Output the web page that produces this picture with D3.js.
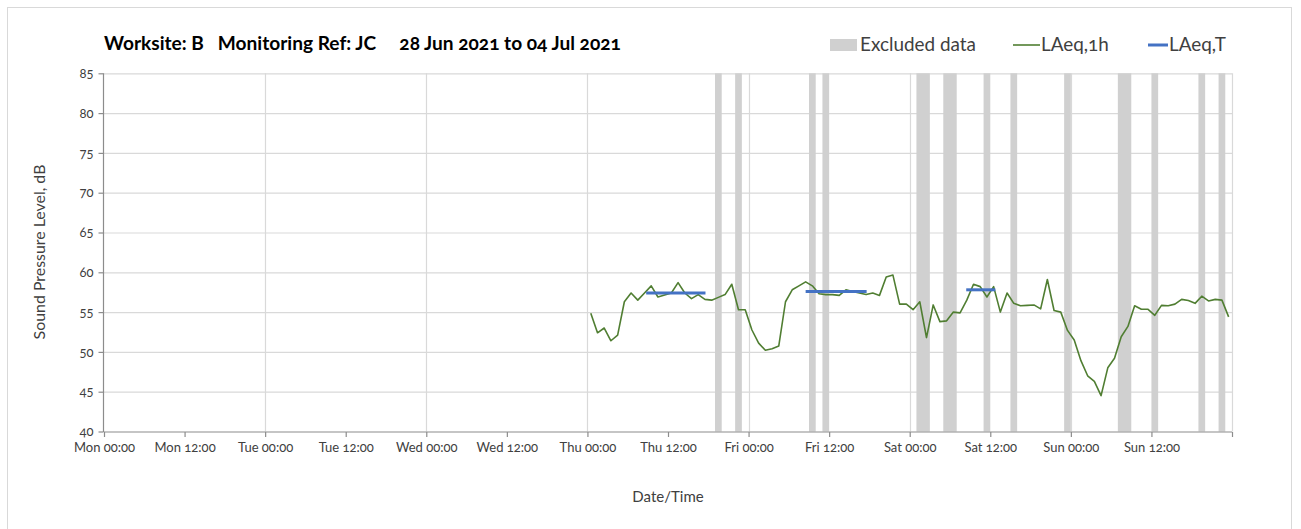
<!DOCTYPE html>
<html><head><meta charset="utf-8">
<script src="https://cdn.jsdelivr.net/npm/d3@7"></script>
<style>
html,body{margin:0;padding:0;background:#fff;}
svg{display:block;font-family:Lato,"Open Sans",sans-serif;font-feature-settings:"onum";}
</style></head><body>
<svg id="c" width="1301" height="529"></svg>
<script>
// ---- data ----
const titleText = "Worksite: B\u00a0\u00a0\u00a0Monitoring Ref: JC\u00a0\u00a0\u00a0\u00a0\u00a028 Jun 2021 to 04 Jul 2021";
const axisStart = "2021-06-28T00:00:00Z";
const axisEnd = "2021-07-05T00:00:00Z";
const yTicks = [40,45,50,55,60,65,70,75,80,85];
const lineStart = "2021-07-01T00:30:00Z"; // first hourly value (plotted at hour midpoint)
const laeq1h = [
 54.85,52.4,53.0,51.4,52.1,56.3,57.4,56.5,57.4,58.3,56.9,57.15,57.4,58.7,57.4,56.7,
 57.2,56.6,56.5,56.85,57.2,58.5,55.3,55.3,
 52.75,51.1,50.2,50.4,50.75,56.3,57.8,58.3,58.8,58.3,57.3,57.2,57.2,57.1,57.8,57.6,57.4,57.2,57.4,57.1,59.4,59.65,56.0,56.0,
 55.3,56.3,51.8,55.9,53.8,53.9,55.0,54.9,56.5,58.5,58.2,56.9,58.2,55.0,57.4,56.1,55.8,55.85,55.9,55.4,59.1,55.2,55.0,52.7,
 51.5,48.9,47.0,46.3,44.5,48.0,49.2,51.9,53.2,55.8,55.35,55.35,54.6,55.85,55.8,56.0,56.6,56.45,56.1,57.0,56.4,56.6,56.5,54.4
];
const laeqT = [
 {from:"2021-07-01T08:45:00Z", to:"2021-07-01T17:35:00Z", value:57.4},
 {from:"2021-07-02T08:30:00Z", to:"2021-07-02T17:35:00Z", value:57.6},
 {from:"2021-07-03T08:25:00Z", to:"2021-07-03T12:45:00Z", value:57.8}
];
const excluded = [
 ["2021-07-01T19:00:00Z","2021-07-01T20:00:00Z"],
 ["2021-07-01T22:00:00Z","2021-07-01T23:00:00Z"],
 ["2021-07-02T09:00:00Z","2021-07-02T10:00:00Z"],
 ["2021-07-02T11:00:00Z","2021-07-02T12:00:00Z"],
 ["2021-07-03T01:00:00Z","2021-07-03T03:00:00Z"],
 ["2021-07-03T05:00:00Z","2021-07-03T07:00:00Z"],
 ["2021-07-03T11:00:00Z","2021-07-03T12:00:00Z"],
 ["2021-07-03T15:00:00Z","2021-07-03T16:00:00Z"],
 ["2021-07-03T23:00:00Z","2021-07-04T00:00:00Z"],
 ["2021-07-04T07:00:00Z","2021-07-04T09:00:00Z"],
 ["2021-07-04T12:00:00Z","2021-07-04T13:00:00Z"],
 ["2021-07-04T19:00:00Z","2021-07-04T20:00:00Z"],
 ["2021-07-04T22:00:00Z","2021-07-04T23:00:00Z"]
];
const legendItems = ["Excluded data","LAeq,1h","LAeq,T"];

// ---- helpers ----
function fit(sel, target){ // scale font so the text spans target px; returns the size used
  let out = null;
  sel.each(function(){
    const fs = parseFloat(getComputedStyle(this).fontSize);
    const w = this.getComputedTextLength();
    if (w > 0) { out = fs*target/w; d3.select(this).style("font-size", out.toFixed(2)+"px"); }
  });
  return out;
}

// ---- chart ----
const svg = d3.select("#c");
const P = {l:104, r:1232, t:73.3, b:431.5};
const x = d3.scaleUtc().domain([new Date(axisStart), new Date(axisEnd)]).range([P.l, P.r]);
const y = d3.scaleLinear().domain([40,85]).range([P.b, P.t]);
const gridCol = "#d9d9d9", axisCol = "#8c8c8c", textCol = "#404040";

svg.append("rect").attr("x",7.5).attr("y",7.5).attr("width",1284).attr("height",540)
  .attr("fill","#fff").attr("stroke","#d9d9d9");

// gridlines
const hTicks = d3.utcHour.every(12).range(new Date(axisStart), d3.utcHour.offset(new Date(axisEnd),1));
const dayTicks = d3.utcDay.range(d3.utcDay.offset(new Date(axisStart),1), new Date(axisEnd));
svg.append("g").selectAll("line").data(yTicks.slice(1)).join("line")
  .attr("x1",P.l).attr("x2",P.r).attr("y1",d=>y(d)+0.5).attr("y2",d=>y(d)+0.5)
  .attr("stroke",gridCol).attr("stroke-width",1.2);
svg.append("g").selectAll("line").data(dayTicks).join("line")
  .attr("x1",d=>Math.round(x(d))+0.5).attr("x2",d=>Math.round(x(d))+0.5).attr("y1",P.t).attr("y2",P.b)
  .attr("stroke",gridCol).attr("stroke-width",1.2);
svg.append("line").attr("x1",P.r+0.5).attr("x2",P.r+0.5).attr("y1",P.t).attr("y2",P.b)
  .attr("stroke",gridCol).attr("stroke-width",1.2);

// excluded bars
svg.append("g").selectAll("rect").data(excluded).join("rect")
  .attr("x",d=>x(new Date(d[0]))).attr("width",d=>x(new Date(d[1]))-x(new Date(d[0])))
  .attr("y",y(85)).attr("height",y(40)-y(85)).attr("fill","#d0d0d0");

// LAeq,1h line
const t0 = new Date(lineStart);
const pts = laeq1h.map((v,i)=>({t:d3.utcHour.offset(t0,i), v}));
svg.append("path").datum(pts)
  .attr("d", d3.line().x(d=>x(d.t)).y(d=>y(d.v)))
  .attr("fill","none").attr("stroke","#507e32").attr("stroke-width",1.6).attr("stroke-linejoin","round");

// LAeq,T segments
svg.append("g").selectAll("line").data(laeqT).join("line")
  .attr("x1",d=>x(new Date(d.from))).attr("x2",d=>x(new Date(d.to)))
  .attr("y1",d=>y(d.value)).attr("y2",d=>y(d.value))
  .attr("stroke","#4472c4").attr("stroke-width",3);

// axes
const xAxis = d3.axisBottom(x).tickValues(hTicks).tickSize(5).tickPadding(6)
  .tickFormat(d=> +d >= +new Date(axisEnd) ? "" : d3.utcFormat("%a %H:%M")(d));
const gx = svg.append("g").attr("transform",`translate(0,${P.b+0.5})`).call(xAxis);
gx.select(".domain").attr("stroke",axisCol).attr("stroke-width",1.2).attr("d",`M${P.l},0H${P.r}`);
gx.selectAll(".tick line").attr("stroke",axisCol).attr("stroke-width",1.2);
gx.selectAll("text").attr("fill",textCol).style("font-size","13px").style("font-family","Lato,'Open Sans',sans-serif");

const yAxis = d3.axisLeft(y).tickValues(yTicks).tickSize(5).tickPadding(5);
const gy = svg.append("g").attr("transform",`translate(${P.l-0.5},0)`).call(yAxis);
gy.select(".domain").attr("stroke",axisCol).attr("stroke-width",1.2).attr("d",`M0,${P.t}V${P.b+0.5}`);
gy.selectAll(".tick line").attr("stroke",axisCol).attr("stroke-width",1.2);
gy.selectAll("text").attr("fill",textCol).style("font-size","13px").style("font-family","Lato,'Open Sans',sans-serif");

// titles
const tt = svg.append("text").attr("x",104).attr("y",50).text(titleText)
  .attr("fill","#000").style("font-weight","bold").style("font-size","15px");
fit(tt, 517);
const yt = svg.append("text").attr("transform","translate(45,252) rotate(-90)").attr("text-anchor","middle")
  .text("Sound Pressure Level, dB").attr("fill",textCol).style("font-size","16px");
fit(yt, 175);
svg.append("text").attr("x",668).attr("y",502).attr("text-anchor","middle")
  .text("Date/Time").attr("fill",textCol).style("font-size","15px");

// legend
const lg = svg.append("g");
lg.append("rect").attr("x",830).attr("y",39).attr("width",27).attr("height",12).attr("fill","#d0d0d0");
const l0 = lg.append("text").attr("x",860).attr("y",51).text(legendItems[0]).attr("fill",textCol).style("font-size","16px");
const lfs = fit(l0, 116);
lg.append("line").attr("x1",1013).attr("x2",1040).attr("y1",45).attr("y2",45).attr("stroke","#507e32").attr("stroke-width",1.6);
lg.append("text").attr("x",1041).attr("y",51).text(legendItems[1]).attr("fill",textCol).style("font-size",lfs+"px");
lg.append("line").attr("x1",1148).attr("x2",1168).attr("y1",45).attr("y2",45).attr("stroke","#4472c4").attr("stroke-width",3);
lg.append("text").attr("x",1169).attr("y",51).text(legendItems[2]).attr("fill",textCol).style("font-size",lfs+"px");
</script>
</body></html>
